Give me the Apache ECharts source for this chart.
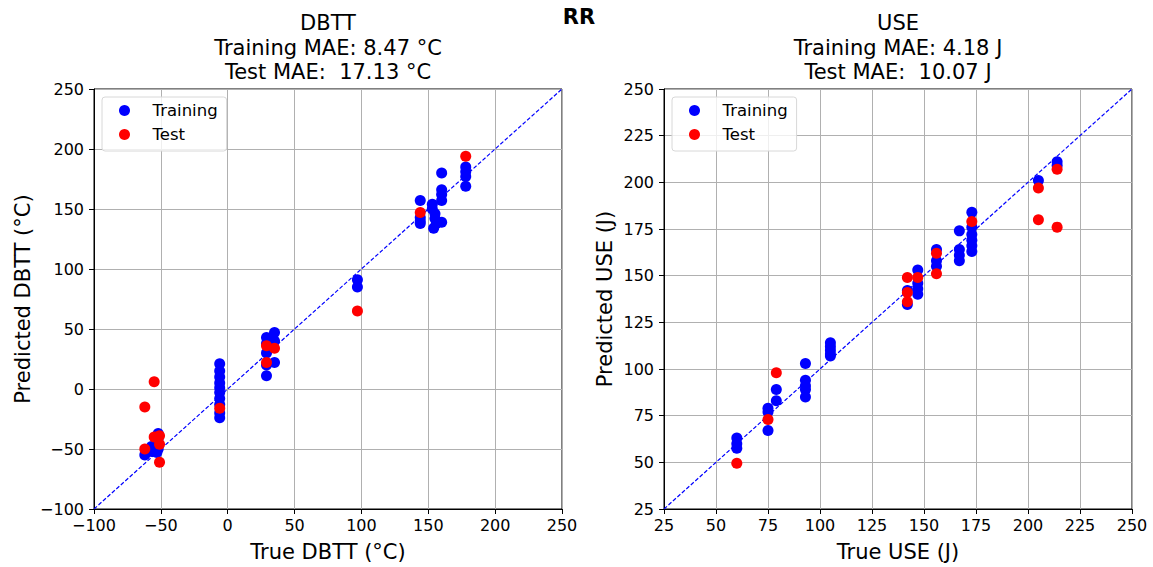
<!DOCTYPE html>
<html><head><meta charset="utf-8">
<script src="https://cdn.jsdelivr.net/npm/echarts@6/dist/echarts.min.js"></script>
<style>html,body{margin:0;padding:0;background:#fff}#c{width:1153px;height:567px}</style>
</head><body><div id="c"></div>
<script>
// ---- DBTT (°C) ----
const dbttTrainTrue = [-62,-57,-57,-52,-52,-52,-52,-53, -6,-6,-6,-6,-6,-6,-6,-6,-6,-6, 29,29,29,29,29, 35,35,35, 97,97, 144,144,144,144, 153,153,155,155,156,154, 160,160,160,160,160, 178,178,178,178];
const dbttTrainPred = [-55,-52,-48,-37,-41,-45,-50,-53, 21,15,10,5,1,-3,-8,-13,-20,-24, 43,38,30,20,11, 47,40,22, 91,85, 157,143,140,138, 154,150,146,142,138,134, 180,166,162,157,139, 185,181,177,169];
const dbttTestTrue = [-62,-55,-55,-51,-51,-62,-51,-6,29,35,29,97,144,178];
const dbttTestPred = [-15,6,-40,-39,-46,-50,-61,-16,36,34,22,65,147,194];
// ---- USE (J) ----
const useTrainTrue = [60,60,60, 75,75,75, 79,79, 93,93,93,93,93, 105,105,105,105,105, 142,142, 147,147,147,147, 156,156,156, 167,167,167,167, 173,173,173,173,173,173, 205, 214,214];
const useTrainPred = [63,60,57.5, 79,77,67, 89,83, 103,94,91,89,85, 114,112,110,108,107, 142,134.5, 153,146,143,140, 164,158,155, 174,164,161,158, 184,176,172,169,166,163, 201, 211,209];
const useTestTrue = [60,75,79,142,142,142,147,156,156,173,205,205,214,214];
const useTestPred = [49.5,73,98,149,141,136,149,162,151,179,197,180,207,176];
// ---- axes / text ----
const dbttTicks = {min:-100, max:250, interval:50};
const useTicks = {min:25, max:250, interval:25};
const titleDBTT = ['DBTT','Training MAE: 8.47 °C','Test MAE:  17.13 °C'];
const titleUSE = ['USE','Training MAE: 4.18 J','Test MAE:  10.07 J'];
const mainTitle = 'RR';
const legendNames = ['Training','Test'];

const FONT = 'DejaVu Sans';
const zip = (a,b) => a.map((v,i)=>[v,b[i]]);
const fmt = v => String(v).replace('-', '\u2212');

function xAxis(g, t, name){
  return {type:'value', gridIndex:g, min:t.min, max:t.max, interval:t.interval,
    name:name, nameLocation:'middle', nameGap:32,
    nameTextStyle:{fontFamily:FONT, fontSize:21, color:'#000'},
    axisLine:{show:true, onZero:false, lineStyle:{color:'#000', width:1}},
    axisTick:{show:true, inside:false, length:5, lineStyle:{color:'#000'}},
    axisLabel:{fontFamily:FONT, fontSize:16, color:'#000', margin:8, formatter:fmt},
    splitLine:{show:true, lineStyle:{color:'#b0b0b0', width:1}}};
}
function yAxis(g, t, name, gap){
  return {type:'value', gridIndex:g, min:t.min, max:t.max, interval:t.interval,
    name:name, nameLocation:'middle', nameGap:gap,
    nameTextStyle:{fontFamily:FONT, fontSize:21, color:'#000'},
    axisLine:{show:true, onZero:false, lineStyle:{color:'#000', width:1}},
    axisTick:{show:true, inside:false, length:5, lineStyle:{color:'#000'}},
    axisLabel:{fontFamily:FONT, fontSize:16, color:'#000', margin:10, formatter:fmt},
    splitLine:{show:true, lineStyle:{color:'#b0b0b0', width:1}}};
}
function scatter(name, g, data, color){
  return {type:'scatter', name:name, xAxisIndex:g, yAxisIndex:g, data:data,
    symbol:'circle', symbolSize:11, itemStyle:{color:color, opacity:1}, z:3};
}
function diag(g, t){
  return {type:'line', xAxisIndex:g, yAxisIndex:g, data:[[t.min,t.min],[t.max,t.max]],
    symbol:'none', silent:true, z:2, lineStyle:{color:'#0000ff', width:1.2, type:[4,2]}};
}
function legend(left){
  return {left:left, top:97, orient:'vertical', data:legendNames.map(n=>({name:n})),
    icon:'circle', itemWidth:30, itemHeight:11, itemGap:7,
    padding:[5,9,8,17], borderColor:'#d8d8d8', borderWidth:1, borderRadius:3,
    backgroundColor:'rgba(255,255,255,0.8)',
    formatter:'{a|{name}}',
    textStyle:{fontFamily:FONT, fontSize:16.5, color:'#000',
      rich:{a:{fontFamily:FONT, fontSize:16.5, color:'#000', padding:[0,0,0,8]}}}};
}
function titleText(x, lines){
  return {type:'text', x:x, y:11, style:{text:lines.join('\n'), align:'center', verticalAlign:'top',
    fontFamily:FONT, fontSize:21, lineHeight:24.5, fill:'#000'}};
}

const chart = echarts.init(document.getElementById('c'), null, {renderer:'svg'});
chart.setOption({
  animation:false,
  backgroundColor:'#fff',
  grid:[
    {left:94, top:89, width:468, height:420, show:true, borderColor:'#000', borderWidth:1, containLabel:false},
    {left:664, top:89, width:468, height:420, show:true, borderColor:'#000', borderWidth:1, containLabel:false}
  ],
  xAxis:[xAxis(0, dbttTicks, 'True DBTT (°C)'), xAxis(1, useTicks, 'True USE (J)')],
  yAxis:[yAxis(0, dbttTicks, 'Predicted DBTT (°C)', 61), yAxis(1, useTicks, 'Predicted USE (J)', 49)],
  legend:[legend(102), legend(672)],
  graphic:[
    titleText(328, titleDBTT),
    titleText(898, titleUSE),
    {type:'text', x:579, y:6, style:{text:mainTitle, align:'center', verticalAlign:'top', fontFamily:FONT, fontSize:21, fontWeight:'bold', fill:'#000'}}
  ],
  series:[
    diag(0, dbttTicks), diag(1, useTicks),
    scatter('Training', 0, zip(dbttTrainTrue, dbttTrainPred), '#0000ff'),
    scatter('Test', 0, zip(dbttTestTrue, dbttTestPred), '#ff0000'),
    scatter('Training', 1, zip(useTrainTrue, useTrainPred), '#0000ff'),
    scatter('Test', 1, zip(useTestTrue, useTestPred), '#ff0000')
  ]
});
</script></body></html>
